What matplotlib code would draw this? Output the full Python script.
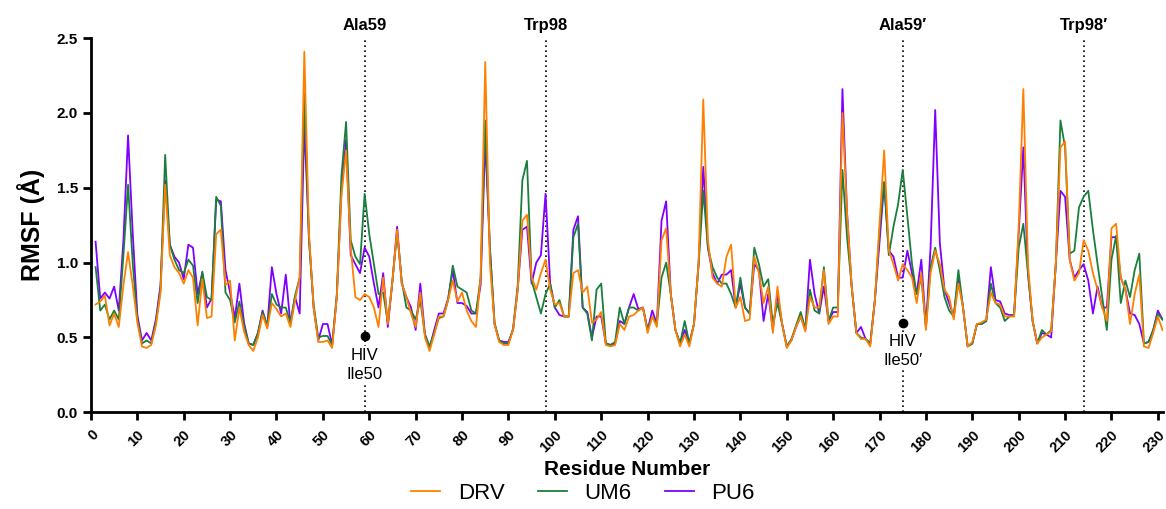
import matplotlib
matplotlib.use("Agg")
import matplotlib.pyplot as plt
import numpy as np

plt.rcParams['font.family'] = ['Liberation Sans', 'DejaVu Sans']

residues = list(range(1, 232))

drv = [0.72, 0.74, 0.78, 0.58, 0.66, 0.57, 0.85, 1.07, 0.85, 0.60,
       0.44, 0.43, 0.45, 0.58, 0.80, 1.52, 1.05, 0.97, 0.93, 0.86,
       0.95, 0.90, 0.58, 0.89, 0.63, 0.64, 1.19, 1.22, 0.85, 0.88,
       0.48, 0.70, 0.54, 0.45, 0.41, 0.50, 0.65, 0.56, 0.73, 0.69,
       0.64, 0.66, 0.57, 0.75, 0.90, 2.41, 1.20, 0.70, 0.47, 0.47,
       0.48, 0.43, 0.77, 1.45, 1.75, 1.10, 0.77, 0.75, 0.79, 0.77,
       0.70, 0.57, 0.90, 0.59, 0.88, 1.22, 0.86, 0.77, 0.66, 0.57,
       0.80, 0.50, 0.41, 0.52, 0.64, 0.64, 0.75, 0.88, 0.74, 0.80,
       0.68, 0.61, 0.57, 0.90, 2.34, 1.00, 0.59, 0.47, 0.45, 0.45,
       0.55, 0.82, 1.28, 1.32, 0.90, 0.82, 0.93, 1.02, 0.82, 0.72,
       0.73, 0.64, 0.64, 0.93, 0.95, 0.80, 0.84, 0.60, 0.62, 0.67,
       0.45, 0.44, 0.45, 0.59, 0.55, 0.64, 0.65, 0.68, 0.70, 0.53,
       0.64, 0.57, 1.15, 1.23, 0.79, 0.55, 0.44, 0.52, 0.44, 0.59,
       1.00, 2.09, 1.15, 0.90, 0.86, 0.84, 1.04, 1.12, 0.70, 0.77,
       0.61, 0.62, 1.04, 0.93, 0.73, 0.84, 0.53, 0.84, 0.59, 0.43,
       0.48, 0.57, 0.64, 0.54, 0.77, 0.70, 0.70, 0.95, 0.59, 0.64,
       0.64, 2.00, 1.33, 0.84, 0.53, 0.49, 0.49, 0.44, 0.75, 1.26,
       1.75, 1.08, 0.99, 0.88, 0.99, 0.95, 0.90, 0.73, 0.93, 0.55,
       0.93, 1.08, 0.99, 0.82, 0.77, 0.62, 0.86, 0.70, 0.44, 0.47,
       0.59, 0.60, 0.62, 0.80, 0.73, 0.72, 0.64, 0.64, 0.64, 1.24,
       2.16, 0.99, 0.61, 0.46, 0.50, 0.52, 0.54, 0.99, 1.77, 1.81,
       1.02, 0.88, 0.93, 1.15, 1.08, 0.93, 0.82, 0.70, 0.61, 1.23,
       1.26, 0.90, 0.82, 0.59, 0.79, 0.92, 0.44, 0.43, 0.53, 0.64,
       0.55]

um6 = [0.97, 0.68, 0.72, 0.62, 0.68, 0.62, 1.05, 1.52, 1.00, 0.62,
       0.46, 0.48, 0.46, 0.60, 0.82, 1.72, 1.12, 1.02, 0.95, 0.93,
       1.02, 0.98, 0.73, 0.94, 0.77, 0.75, 1.44, 1.38, 0.80, 0.75,
       0.60, 0.74, 0.58, 0.46, 0.45, 0.53, 0.67, 0.58, 0.79, 0.72,
       0.70, 0.70, 0.60, 0.78, 0.90, 2.13, 1.15, 0.72, 0.50, 0.51,
       0.51, 0.45, 0.79, 1.58, 1.94, 1.15, 1.04, 0.99, 1.46, 1.19,
       0.99, 0.79, 0.80, 0.60, 0.88, 1.20, 0.88, 0.70, 0.68, 0.62,
       0.75, 0.52, 0.44, 0.53, 0.63, 0.64, 0.75, 0.98, 0.84, 0.82,
       0.80, 0.68, 0.66, 0.90, 1.95, 1.10, 0.60, 0.48, 0.46, 0.46,
       0.56, 0.85, 1.55, 1.68, 0.88, 0.77, 0.66, 0.79, 0.86, 0.70,
       0.75, 0.64, 0.64, 1.17, 1.26, 0.70, 0.66, 0.48, 0.82, 0.86,
       0.46, 0.45, 0.47, 0.70, 0.59, 0.70, 0.70, 0.68, 0.70, 0.55,
       0.64, 0.59, 0.90, 1.00, 0.79, 0.55, 0.46, 0.61, 0.46, 0.59,
       0.99, 1.48, 1.10, 0.97, 0.90, 0.86, 0.86, 0.79, 0.70, 0.90,
       0.70, 0.66, 1.10, 0.99, 0.84, 0.89, 0.59, 0.73, 0.59, 0.44,
       0.49, 0.58, 0.67, 0.56, 0.82, 0.68, 0.66, 0.97, 0.61, 0.70,
       0.70, 1.62, 1.17, 0.84, 0.53, 0.50, 0.49, 0.46, 0.75, 1.22,
       1.54, 1.05, 1.24, 1.39, 1.62, 1.31, 0.99, 0.79, 0.90, 0.57,
       0.97, 1.10, 0.95, 0.77, 0.68, 0.64, 0.95, 0.70, 0.44, 0.46,
       0.59, 0.59, 0.61, 0.86, 0.73, 0.70, 0.61, 0.64, 0.65, 1.10,
       1.26, 0.93, 0.61, 0.46, 0.55, 0.52, 0.55, 0.99, 1.95, 1.77,
       1.06, 1.08, 1.37, 1.44, 1.48, 1.22, 0.99, 0.77, 0.55, 1.02,
       1.18, 0.73, 0.88, 0.77, 0.95, 1.06, 0.46, 0.47, 0.55, 0.66,
       0.62]

pu6 = [1.14, 0.76, 0.80, 0.76, 0.84, 0.68, 1.15, 1.85, 1.20, 0.65,
       0.48, 0.53, 0.48, 0.62, 0.85, 1.55, 1.12, 1.04, 1.00, 0.89,
       1.12, 1.10, 0.79, 0.93, 0.70, 0.76, 1.42, 1.41, 0.95, 0.80,
       0.63, 0.86, 0.60, 0.46, 0.45, 0.53, 0.68, 0.57, 0.97, 0.79,
       0.66, 0.92, 0.59, 0.77, 0.66, 1.93, 1.17, 0.70, 0.48, 0.59,
       0.59, 0.45, 0.77, 1.48, 1.82, 1.05, 0.99, 0.93, 1.10, 1.04,
       0.86, 0.70, 0.93, 0.57, 0.88, 1.24, 0.86, 0.77, 0.70, 0.55,
       0.86, 0.52, 0.43, 0.55, 0.66, 0.66, 0.76, 0.95, 0.73, 0.73,
       0.71, 0.66, 0.66, 0.85, 1.82, 1.10, 0.59, 0.48, 0.47, 0.47,
       0.55, 0.82, 1.22, 1.24, 0.86, 1.00, 1.05, 1.46, 0.86, 0.70,
       0.65, 0.64, 0.64, 1.22, 1.31, 0.70, 0.67, 0.50, 0.64, 0.64,
       0.46, 0.45, 0.46, 0.61, 0.59, 0.70, 0.79, 0.69, 0.70, 0.55,
       0.68, 0.59, 1.28, 1.41, 0.79, 0.55, 0.46, 0.55, 0.46, 0.59,
       1.00, 1.64, 1.10, 0.93, 0.86, 0.92, 0.92, 0.95, 0.70, 0.86,
       0.70, 0.66, 0.99, 0.95, 0.61, 0.79, 0.55, 0.79, 0.59, 0.44,
       0.48, 0.57, 0.64, 0.55, 1.02, 0.79, 0.66, 0.84, 0.61, 0.67,
       0.67, 2.16, 1.33, 0.84, 0.53, 0.57, 0.49, 0.46, 0.75, 1.14,
       1.53, 1.08, 1.04, 0.90, 0.90, 1.08, 0.93, 0.79, 1.02, 0.57,
       1.10, 2.02, 1.13, 0.82, 0.73, 0.64, 0.90, 0.70, 0.44, 0.46,
       0.59, 0.59, 0.61, 0.97, 0.75, 0.74, 0.66, 0.65, 0.65, 1.20,
       1.77, 0.93, 0.61, 0.46, 0.53, 0.52, 0.50, 0.99, 1.48, 1.44,
       1.02, 0.90, 0.95, 0.99, 0.88, 0.66, 0.84, 0.70, 0.70, 1.17,
       1.17, 0.90, 0.82, 0.66, 0.65, 0.59, 0.46, 0.47, 0.55, 0.68,
       0.62]

series_names = ["DRV", "UM6", "PU6"]
series_colors = {"DRV": "#ff8000", "UM6": "#1a7f3c", "PU6": "#8000ff"}

marker_residues = [59, 98, 175, 214]
marker_labels = ["Ala59", "Trp98", "Ala59\u2032", "Trp98\u2032"]

hiv_residues = [59, 175]
hiv_values = [0.51, 0.60]
hiv_labels = ["HIV\nIle50", "HIV\nIle50\u2032"]

x_ticks = list(range(0, 231, 10))
y_ticks = [0.0, 0.5, 1.0, 1.5, 2.0, 2.5]

fig = plt.figure(figsize=(11.66, 5.09), dpi=100)
ax = fig.add_axes([0.078, 0.19, 0.919, 0.735])

data = {"DRV": drv, "UM6": um6, "PU6": pu6}
for name in ["PU6", "UM6", "DRV"]:
    ax.plot(residues, data[name], color=series_colors[name], lw=1.3, label=name, zorder=3)

for r, lab in zip(marker_residues, marker_labels):
    ax.axvline(r, color="black", ls=(0, (1, 2)), lw=1.2, zorder=2, clip_on=False)
    ax.text(r, 1.035, lab, transform=ax.get_xaxis_transform(), ha="center", va="center",
            fontsize=12, fontweight="bold")

for r, v, lab in zip(hiv_residues, hiv_values, hiv_labels):
    ax.plot([r], [v], "o", color="black", ms=6, zorder=5)
    ax.text(r, v - 0.08, lab, ha="center", va="top", fontsize=12, linespacing=1.3,
            bbox=dict(facecolor="white", edgecolor="none", pad=1.5), zorder=4)

ax.set_xlim(0, 231)
ax.set_ylim(0, 2.5)
ax.set_xticks(x_ticks)
ax.set_yticks(y_ticks)
ax.set_xticklabels([str(t) for t in x_ticks], rotation=45, ha="right",
                   rotation_mode="anchor", fontweight="bold", fontsize=10.5)
ax.set_yticklabels([f"{t:.1f}" for t in y_ticks], fontweight="bold", fontsize=11)
for s in ["top", "right"]:
    ax.spines[s].set_visible(False)
for s in ["left", "bottom"]:
    ax.spines[s].set_linewidth(2)
ax.tick_params(axis="both", width=2, length=6, direction="out")
ax.tick_params(axis="x", pad=5)

ax.set_xlabel("Residue Number", fontsize=15, fontweight="bold", labelpad=4)
ax.set_ylabel("RMSF (\u00c5)", fontsize=18, fontweight="bold", labelpad=8)

handles, labels = ax.get_legend_handles_labels()
order = [labels.index(n) for n in series_names]
fig.legend([handles[i] for i in order], [labels[i] for i in order], loc="center",
           bbox_to_anchor=(0.5, 0.03), ncol=3, frameon=False, fontsize=16,
           handlelength=1.3, columnspacing=1.5, handletextpad=0.8)

fig.savefig("out.png", dpi=100)
